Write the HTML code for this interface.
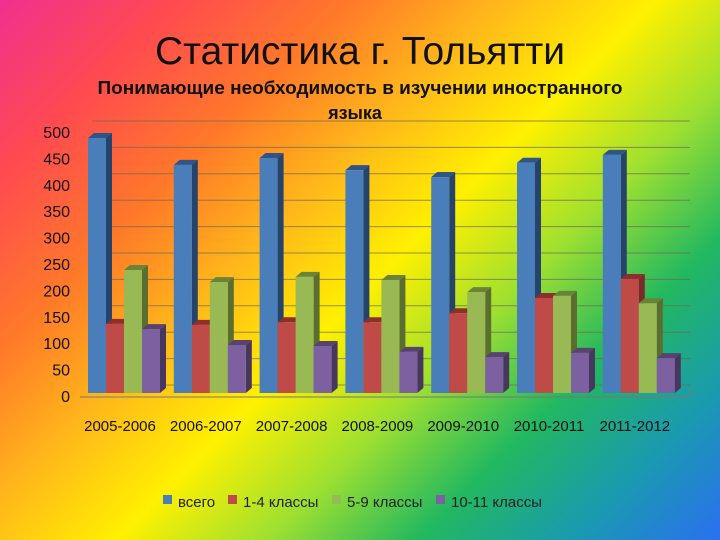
<!DOCTYPE html>
<html><head><meta charset="utf-8">
<style>
html,body{margin:0;padding:0}
body{width:720px;height:540px;overflow:hidden;position:relative;font-family:"Liberation Sans","DejaVu Sans",sans-serif;
background:linear-gradient(135deg,#f0308f 0%,#ff4a50 14%,#ff7a28 28%,#ffb81a 40%,#fff000 52%,#9ee030 64%,#22b860 76%,#1a9ab0 88%,#2a70f0 100%);}
svg{position:absolute;left:0;top:0}
</style></head><body>
<svg width="720" height="540">
<text x="360" y="64" text-anchor="middle" font-size="39" textLength="410" lengthAdjust="spacingAndGlyphs" fill="#111">Статистика г. Тольятти</text>
<text x="360" y="94" text-anchor="middle" font-size="18" font-weight="bold" textLength="525" lengthAdjust="spacingAndGlyphs" fill="#111">Понимающие необходимость в изучении иностранного</text>
<text x="355" y="119" text-anchor="middle" font-size="18" font-weight="bold" fill="#111">языка</text>
<g id="grid"></g><g id="bars"></g><g id="axes"></g><g id="legend"></g>
</svg>
<script>
const categories=["2005-2006","2006-2007","2007-2008","2008-2009","2009-2010","2010-2011","2011-2012"];
const seriesNames=["всего","1-4 классы","5-9 классы","10-11 классы"];
const vsego=[483,432,445,422,409,436,451];
const kl14=[131,129,134,134,151,180,216];
const kl59=[233,210,220,214,191,184,170];
const kl1011=[121,91,89,78,68,76,66];
const yTicks=[0,50,100,150,200,250,300,350,400,450,500];
const NS="http://www.w3.org/2000/svg";
const base=393, scale=0.528, x0=88, catW=85.8, barW=18, dx=6, dy=5;
const y=v=>base-v*scale;
const xc=i=>x0+i*catW;
const fronts=["#4a7ebb","#be4b48","#98b954","#7d60a0"];
const sides=["#26436b","#7a2b29","#5a6e30","#47365e"];
const tops=["#2f5487","#8d302d","#6b8337","#574270"];
function mk(t,a,p){const e=document.createElementNS(NS,t);for(const k in a)e.setAttribute(k,a[k]);(p||document.querySelector('svg')).appendChild(e);return e;}
const grid=document.getElementById('grid'),bars=document.getElementById('bars'),axes=document.getElementById('axes'),leg=document.getElementById('legend');
yTicks.forEach(v=>{
 const l=mk('line',{x1:x0+4,x2:690,y1:y(v)-dy-3,y2:y(v)-dy-3,stroke:"#6a6a50","stroke-width":1,"stroke-opacity":0.7},grid);
 
 
 const t=mk('text',{x:70,y:y(v)+9,"text-anchor":"end","font-size":16,fill:"#111"},axes);t.textContent=v;
 
 
});
const fl=mk('path',{d:`M80 ${base+4} L${x0+7*catW-2} ${base+4} L${x0+7*catW+6} ${base-3}`,stroke:"#777",fill:"none","stroke-width":1},axes);


const data=[vsego,kl14,kl59,kl1011];
categories.forEach((c,i)=>{
 data.forEach((s,j)=>{
  const bx=xc(i)+j*barW, by=y(s[i]);
  const g=mk('g',{},bars);
  
  
  mk('polygon',{points:`${bx+barW},${by} ${bx+barW+dx},${by-dy} ${bx+barW+dx},${base-dy} ${bx+barW},${base}`,fill:sides[j]},g);
  mk('polygon',{points:`${bx},${by} ${bx+dx},${by-dy} ${bx+barW+dx},${by-dy} ${bx+barW},${by}`,fill:tops[j]},g);
  mk('rect',{x:bx,y:by,width:barW,height:base-by,fill:fronts[j]},g);
 });
 const t=mk('text',{x:xc(i)+32,y:431,"text-anchor":"middle","font-size":15,fill:"#111"},axes);t.textContent=c;
 
 
});
const lx=[163,228,332,436];
seriesNames.forEach((n,j)=>{
 const g=mk('g',{},leg);
 
 
 mk('rect',{x:lx[j],y:495,width:9,height:9,fill:fronts[j]},g);
 const t=mk('text',{x:lx[j]+15,y:507,"font-size":15,fill:"#222"},g);t.textContent=n;
});
</script>
</body></html>
